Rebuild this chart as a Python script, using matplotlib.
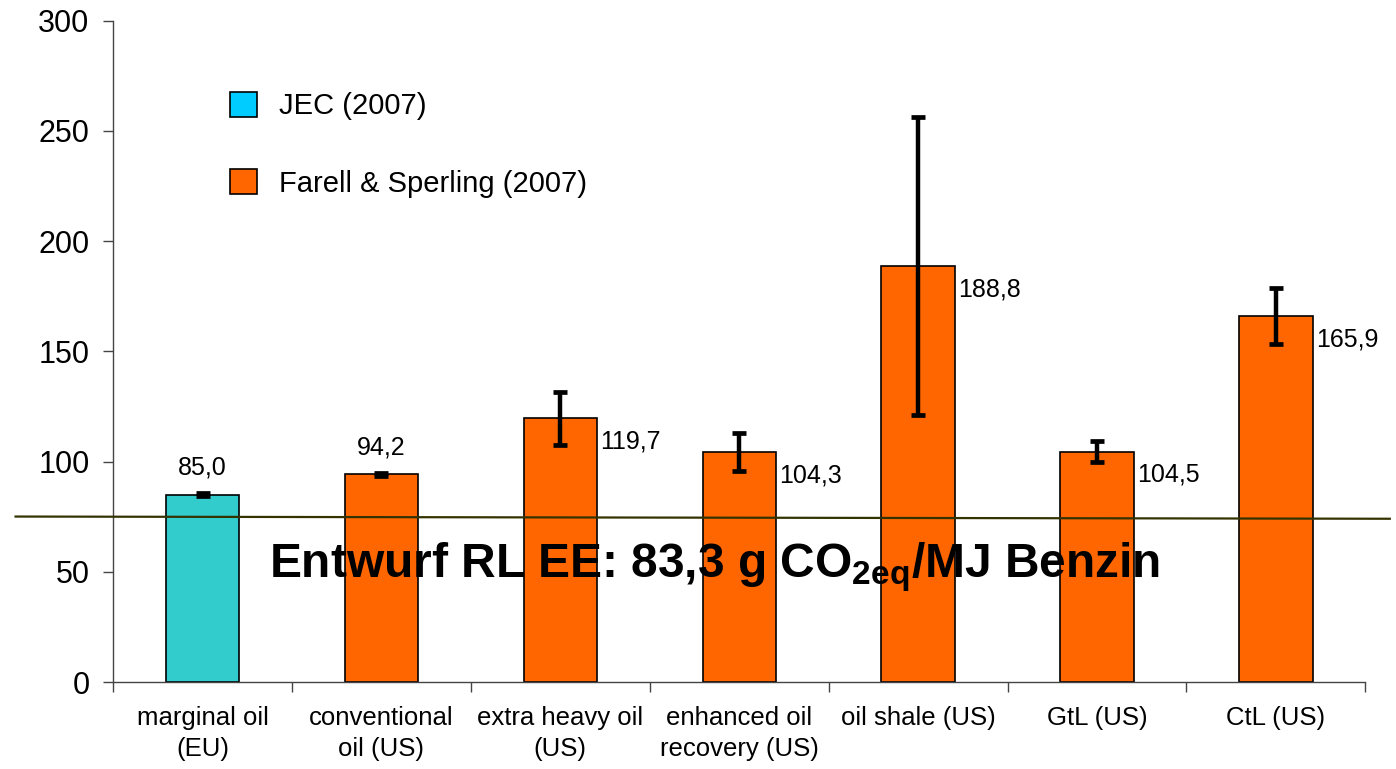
import numpy as np
import matplotlib
matplotlib.use("Agg")
import matplotlib.pyplot as plt
from matplotlib.patches import Patch

plt.rcParams["font.family"] = ["Liberation Sans", "DejaVu Sans"]
plt.rcParams["mathtext.default"] = "regular"

categories = ["marginal oil\n(EU)", "conventional\noil (US)", "extra heavy oil\n(US)",
              "enhanced oil\nrecovery (US)", "oil shale (US)", "GtL (US)", "CtL (US)"]
values = [85.0, 94.2, 119.7, 104.3, 188.8, 104.5, 165.9]
errors = [0.6, 0.6, 12.0, 8.6, 67.6, 4.8, 12.7]
labels = ["85,0", "94,2", "119,7", "104,3", "188,8", "104,5", "165,9"]
sources = ["JEC (2007)", "Farell & Sperling (2007)", "Farell & Sperling (2007)",
           "Farell & Sperling (2007)", "Farell & Sperling (2007)",
           "Farell & Sperling (2007)", "Farell & Sperling (2007)"]
limit_line = [75.1, 74.1]   # drawn reference line (left end, right end)
limit_text = r"Entwurf RL EE: 83,3 g CO$_{2eq}$/MJ Benzin"

colors = {"JEC (2007)": "#33CCCC", "Farell & Sperling (2007)": "#FF6600"}
legend_colors = {"JEC (2007)": "#00CCFF", "Farell & Sperling (2007)": "#FF6600"}

fig = plt.figure(figsize=(13.96, 7.69), dpi=100)
ax = fig.add_axes([0.081, 0.113, 0.897, 0.86])

x = np.arange(len(categories))
ax.bar(x, values, width=0.41, color=[colors[s] for s in sources],
       edgecolor="black", linewidth=1.2, zorder=2)
eb = ax.errorbar(x, values, yerr=errors, fmt="none", ecolor="black",
                 elinewidth=3.2, capsize=5.2, capthick=3.4, zorder=3)
for cl in eb[1]:
    cl.set_solid_capstyle("round")

# value labels
for i, (v, lab) in enumerate(zip(values, labels)):
    if i < 2:
        ax.text(x[i], v + 7, lab, ha="center", va="bottom", fontsize=18)
    else:
        ax.text(x[i] + 0.225, v - 10.5, lab, ha="left", va="center", fontsize=18)

# reference line across the whole figure width
ax.plot([-1.045, 6.637], limit_line, color="#333300", linewidth=1.6,
        clip_on=False, zorder=4)
ax.text(0.480, 0.159, limit_text, transform=ax.transAxes, ha="center",
        va="baseline", fontsize=34.5, fontweight="bold", zorder=5)

ax.set_xlim(-0.5, 6.5)
ax.set_ylim(0, 300)
ax.set_yticks(np.arange(0, 301, 50))
ax.tick_params(axis="y", labelsize=22, length=7, width=1, pad=10, color="#444444")

ax.set_xticks(x)
ax.set_xticklabels(categories, fontsize=18.5, linespacing=1.4)
ax.set_xticks(np.arange(-0.5, 6.6, 1), minor=True)
ax.tick_params(axis="x", which="major", length=0, pad=17)
ax.tick_params(axis="x", which="minor", length=7, width=1, color="#444444")

for side in ["top", "right"]:
    ax.spines[side].set_visible(False)
for side in ["left", "bottom"]:
    ax.spines[side].set_color("#444444")
    ax.spines[side].set_linewidth(1)

handles = [Patch(facecolor=legend_colors[k], edgecolor="black", linewidth=1.2)
           for k in legend_colors]
ax.legend(handles, list(legend_colors.keys()), loc="upper left",
          bbox_to_anchor=(0.093, 0.893), frameon=False, fontsize=21,
          handlelength=0.95, handleheight=0.95, labelspacing=1.68,
          handletextpad=0.75, borderpad=0, borderaxespad=0)

fig.savefig("out.png", dpi=100)
